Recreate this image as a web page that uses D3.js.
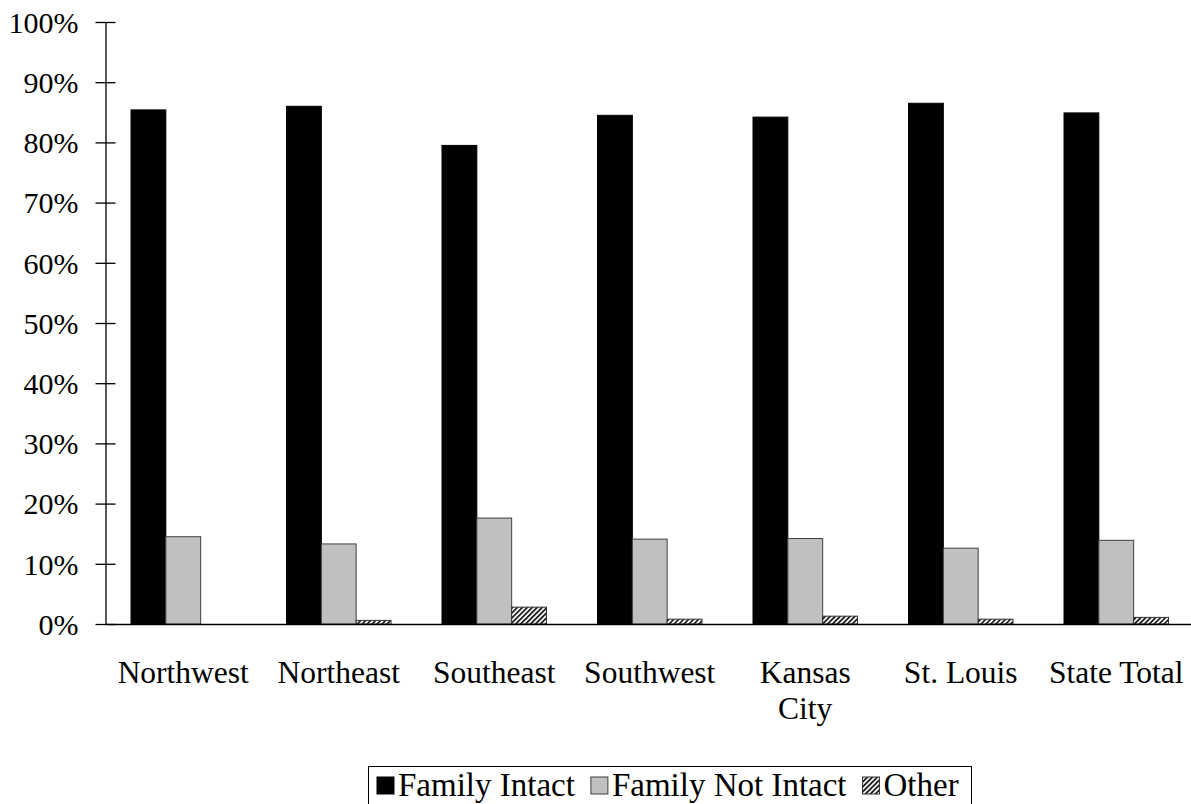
<!DOCTYPE html>
<html>
<head>
<meta charset="utf-8">
<script src="https://cdn.jsdelivr.net/npm/d3@7"></script>
<style>
  html, body { margin: 0; padding: 0; background: #fff; }
  svg { display: block; }
  text { font-family: "Liberation Serif", "Times New Roman", serif; fill: #000; }
</style>
</head>
<body>
<svg id="chart" width="1191" height="804"></svg>
<script>
const categories = ["Northwest", "Northeast", "Southeast", "Southwest", "Kansas City", "St. Louis", "State Total"];
const categoryLines = [["Northwest"], ["Northeast"], ["Southeast"], ["Southwest"], ["Kansas", "City"], ["St. Louis"], ["State Total"]];
const seriesNames = ["Family Intact", "Family Not Intact", "Other"];
const familyIntact = [85.4, 86.0, 79.5, 84.5, 84.2, 86.5, 84.9];
const familyNotIntact = [14.5, 13.3, 17.6, 14.1, 14.2, 12.6, 13.9];
const other = [0, 0.6, 2.8, 0.8, 1.3, 0.8, 1.1];
const yTicks = [0, 10, 20, 30, 40, 50, 60, 70, 80, 90, 100];

const seriesValues = [familyIntact, familyNotIntact, other];

const svg = d3.select("#chart");
const defs = svg.append("defs");
const pat = defs.append("pattern")
  .attr("id", "hatch")
  .attr("patternUnits", "userSpaceOnUse")
  .attr("width", 3.5).attr("height", 3.5)
  .attr("patternTransform", "rotate(45)");
pat.append("rect").attr("width", 3.5).attr("height", 3.5).attr("fill", "#fff");
pat.append("rect").attr("width", 1.8).attr("height", 3.5).attr("fill", "#222");

const fills = ["#000000", "#c0c0c0", "url(#hatch)"];
const strokes = ["#000000", "#404040", "#333333"];

const mLeft = 105.5, mRight = 1194, mTop = 22, mBottom = 624;

const x0 = d3.scaleBand().domain(categories).range([mLeft, mRight]).paddingInner(0).paddingOuter(0);
const x1 = d3.scaleBand().domain(seriesNames).range([25.5, x0.bandwidth() - 25.5]).padding(0);
const y = d3.scaleLinear().domain([0, 100]).range([mBottom, mTop]);

// bars
seriesNames.forEach((s, si) => {
  svg.append("g").selectAll("rect")
    .data(categories.map((c, i) => ({c, v: seriesValues[si][i]})).filter(d => d.v > 0))
    .join("rect")
    .attr("x", d => x0(d.c) + x1(s))
    .attr("y", d => y(d.v))
    .attr("width", x1.bandwidth())
    .attr("height", d => y(0) - y(d.v))
    .attr("fill", fills[si])
    .attr("stroke", strokes[si])
    .attr("stroke-width", 1);
});

// y axis
const yAxis = d3.axisLeft(y).tickValues(yTicks).tickFormat(d => d + "%").tickSize(0).tickPadding(0);
const gy = svg.append("g").attr("transform", `translate(${mLeft},0)`).call(yAxis);
gy.select(".domain").attr("stroke", "#000").attr("stroke-width", 1.3);
gy.selectAll(".tick line").attr("x1", -10).attr("x2", 10).attr("stroke", "#000").attr("stroke-width", 1.3);
gy.selectAll(".tick text")
  .attr("x", -27)
  .attr("dy", "0.34em")
  .style("font-family", '"Liberation Serif", "Times New Roman", serif')
  .style("font-size", "30px")
  .attr("fill", "#000");

// x axis line
const xAxis = d3.axisBottom(x0).tickSize(0).tickFormat("");
const gx = svg.append("g").attr("transform", `translate(0,${mBottom})`).call(xAxis);
gx.select(".domain").attr("stroke", "#000").attr("stroke-width", 1.3);

// category labels
const lab = svg.append("g");
categories.forEach((c, i) => {
  const cx = x0(c) + x0.bandwidth() / 2;
  const t = lab.append("text")
    .attr("x", cx)
    .attr("y", 683)
    .attr("text-anchor", "middle")
    .style("font-size", "31.5px");
  categoryLines[i].forEach((line, li) => {
    t.append("tspan").attr("x", cx).attr("dy", li === 0 ? 0 : 36).text(line);
  });
});

// legend
const lg = svg.append("g");
lg.append("rect").attr("x", 368.5).attr("y", 766.5).attr("width", 603).attr("height", 60)
  .attr("fill", "#fff").attr("stroke", "#000").attr("stroke-width", 1);
let lx = 377;
seriesNames.forEach((s, i) => {
  lg.append("rect").attr("x", lx).attr("y", 777).attr("width", 17).attr("height", 17)
    .attr("fill", fills[i]).attr("stroke", strokes[i]).attr("stroke-width", 1);
  const t = lg.append("text").attr("x", lx + 21).attr("y", 796).style("font-size", "33px").text(s);
  lx = lx + 21 + t.node().getComputedTextLength() + 16;
});
</script>
</body>
</html>
